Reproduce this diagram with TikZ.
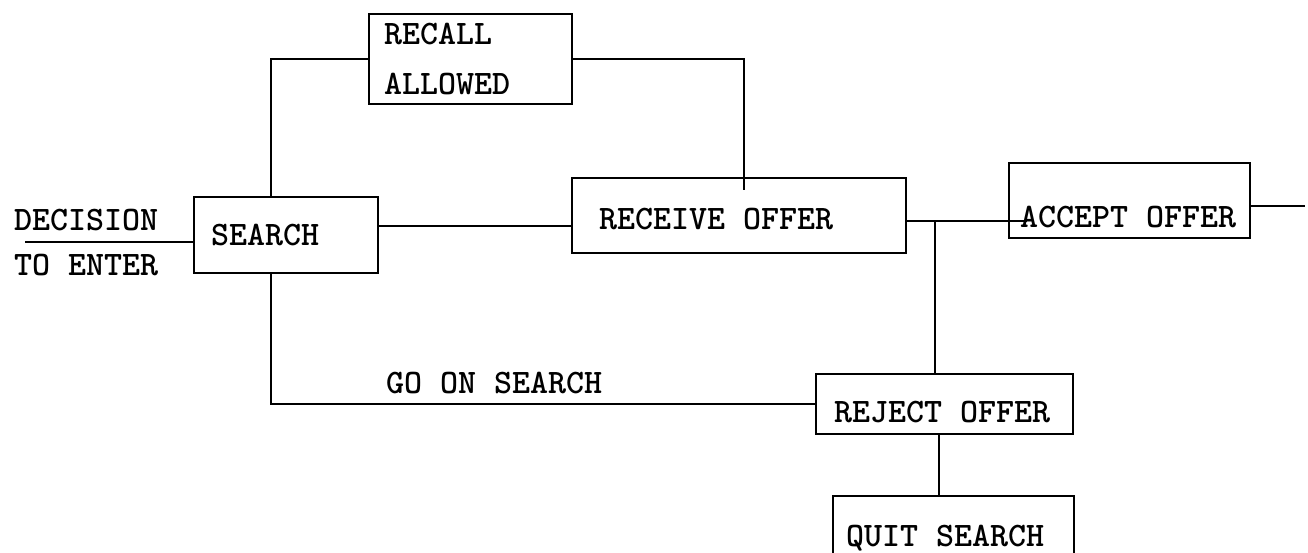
\documentclass[tikz,border=0pt]{standalone}
\usepackage{fontspec}

\begin{document}
\begin{tikzpicture}[x=1pt,y=-1pt,line width=2pt,
      box/.style={draw,anchor=north west,align=flush left,inner ysep=0pt,
        font=\ttfamily\bfseries\fontsize{34.3}{50}\selectfont},
      label node/.style={anchor=west,inner sep=0pt,
        font=\ttfamily\bfseries\fontsize{34.3}{50}\selectfont}]
      \useasboundingbox (0,0) rectangle (1308,552);

      \node[box,text width=150pt,inner xsep=17pt,minimum height=76pt] (search) at (193,196) {SEARCH};
      \node[box,text width=173pt,inner xsep=15pt,minimum height=90pt] (recall) at (368,13) {RECALL\\ALLOWED};
      \node[box,text width=280pt,inner xsep=27pt,minimum height=75pt,text height=28pt] (receive) at (571,177) {RECEIVE OFFER};
      \node[box,text width=219pt,inner xsep=11pt,minimum height=75pt,text height=54pt] (accept) at (1008,162) {ACCEPT OFFER};
      \node[box,text width=221pt,inner xsep=18pt,minimum height=60pt,text height=38pt] (reject) at (815,373) {REJECT OFFER};
      \node[box,text width=215pt,inner xsep=13pt,minimum height=84pt] (quit) at (832,495) {QUIT SEARCH};

      \node[label node] (decision) at (13,220) {DECISION};
      \node[label node] (enter) at (13,265) {TO ENTER};
      \node[label node] (goon) at (385,383) {GO ON SEARCH};

      \coordinate (in) at (25,242);
      \coordinate (j) at (935,221);
      \coordinate (out) at (1305,205);
      \coordinate (s1) at ([yshift=9pt]search.east);
      \coordinate (r1) at ([xshift=-6pt]reject.south);
      \coordinate (a1) at ([yshift=-5pt]accept.east);

      \draw (in) -- (in -| search.west);
      \draw ([xshift=-15pt]search.north) |- (recall.west);
      \draw (recall.east) -| ([xshift=5pt,yshift=-13pt]receive.north);
      \draw (s1) -- (s1 -| receive.west);
      \draw (j -| receive.east) -- (j -| accept.west) -- ++(19,0);
      \draw (j) -- (j |- reject.north);
      \draw (r1) -- (r1 |- quit.north);
      \draw (a1) -- (a1 -| out);
      \draw ([xshift=-15pt]search.south) |- (reject.west);
\end{tikzpicture}
\end{document}
